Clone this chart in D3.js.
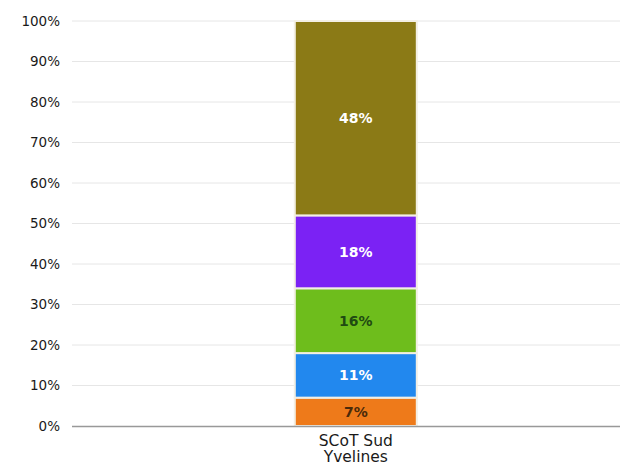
<!DOCTYPE html>
<html>
<head>
<meta charset="utf-8">
<script src="https://cdn.jsdelivr.net/npm/d3@7"></script>
<style>
  body { margin: 0; background: #fff; }
</style>
</head>
<body>
<div id="chart"></div>
<script>
const categories = ["SCoT Sud Yvelines"];
const seriesNames = ["s1", "s2", "s3", "s4", "s5"];
const seriesValues = [7, 11, 16, 18, 48];
const seriesColors = ["#ee7a1a", "#2288ee", "#6ebd1c", "#7b22f4", "#8b7a16"];
const labelColors = ["#4a2a0a", "#ffffff", "#1f4a12", "#ffffff", "#ffffff"];
const yTicks = [0, 10, 20, 30, 40, 50, 60, 70, 80, 90, 100];

const width = 620, height = 473;
const margin = { top: 21, right: 0, bottom: 47, left: 72 };

const svg = d3.select("#chart").append("svg")
  .attr("width", width)
  .attr("height", height)
  .style("font-family", "'DejaVu Sans', Verdana, sans-serif");

const x = d3.scaleBand()
  .domain(categories)
  .range([margin.left, width - margin.right])
  .paddingInner(0)
  .paddingOuter(1.746)
  .align(0.523);

const y = d3.scaleLinear()
  .domain([0, 100])
  .range([height - margin.bottom, margin.top]);

// Gridlines
svg.append("g")
  .selectAll("line")
  .data(yTicks.filter(d => d > 0))
  .join("line")
  .attr("x1", margin.left)
  .attr("x2", width - margin.right)
  .attr("y1", d => y(d))
  .attr("y2", d => y(d))
  .attr("stroke", "#e6e6e6")
  .attr("stroke-width", 1);

// Y axis labels
svg.append("g")
  .selectAll("text")
  .data(yTicks)
  .join("text")
  .attr("x", 60)
  .attr("y", d => y(d))
  .attr("dy", "0.35em")
  .attr("text-anchor", "end")
  .style("font-size", "13.5px")
  .attr("fill", "#1a1a1a")
  .text(d => d + "%");

// Stacked data
const stackData = [Object.fromEntries(seriesNames.map((k, i) => [k, seriesValues[i]]))];
const stacked = d3.stack().keys(seriesNames)(stackData);

const bw = x.bandwidth();
const segs = svg.append("g")
  .selectAll("g")
  .data(stacked)
  .join("g");

segs.append("rect")
  .attr("x", x(categories[0]))
  .attr("width", bw)
  .attr("y", d => y(d[0][1]))
  .attr("height", d => y(d[0][0]) - y(d[0][1]))
  .attr("fill", (d, i) => seriesColors[i])
  .attr("stroke", "#f3efe4")
  .attr("stroke-width", 2);

segs.append("text")
  .attr("x", x(categories[0]) + bw / 2)
  .attr("y", d => (y(d[0][0]) + y(d[0][1])) / 2)
  .attr("dy", "0.35em")
  .attr("text-anchor", "middle")
  .style("font-size", "14px")
  .style("font-weight", "bold")
  .attr("fill", (d, i) => labelColors[i])
  .text((d, i) => seriesValues[i] + "%");

// Baseline
svg.append("line")
  .attr("x1", margin.left)
  .attr("x2", width - margin.right)
  .attr("y1", y(0) + 0.5)
  .attr("y2", y(0) + 0.5)
  .attr("stroke", "#999")
  .attr("stroke-width", 1.5);

// Category label
const cx = x(categories[0]) + bw / 2;
const catLabel = svg.append("text")
  .attr("x", cx)
  .attr("y", y(0) + 20)
  .attr("text-anchor", "middle")
  .style("font-size", "15.5px")
  .attr("fill", "#1a1a1a");
catLabel.append("tspan").attr("x", cx).text("SCoT Sud");
catLabel.append("tspan").attr("x", cx).attr("dy", "1.05em").text("Yvelines");
</script>
</body>
</html>
